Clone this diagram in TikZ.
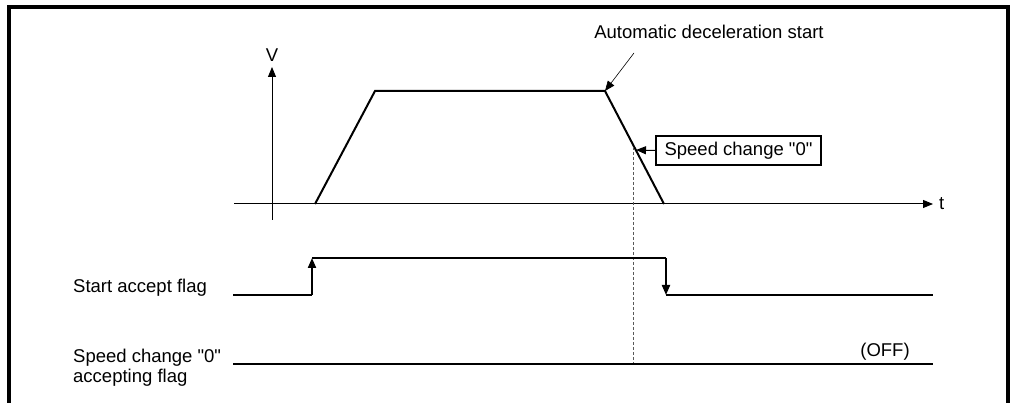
\documentclass[tikz,border=0pt]{standalone}
\usepackage{fontspec}
\newfontfamily\arialfam{Liberation Sans}
\usetikzlibrary{arrows.meta}
\begin{document}
\begin{tikzpicture}[x=1pt,y=-1pt,
  lbl/.style={font=\arialfam\fontsize{18.5}{20}\selectfont, inner sep=0pt},
  thinln/.style={line width=1pt},
  hairln/.style={line width=0.6pt},
  sig/.style={line width=2pt},
  tip/.style={-{Triangle[length=10pt,width=8pt]}},
  frameln/.style={line width=4pt, line join=miter}]
\useasboundingbox (0,0) rectangle (1010,403);
% frame
\coordinate (f1) at (9,403);
\coordinate (f2) at (9,7);
\coordinate (f3) at (1007.5,7);
\coordinate (f4) at (1007.5,403);
\draw[frameln] (f1) -- (f2) -- (f3) -- (f4);
% axes
\coordinate (vb) at (272,220);
\coordinate (vt) at (272,67);
\draw[thinln,tip] (vb) -- (vt);
\node[lbl,anchor=base] (V) at (272,62) {V};
\coordinate (tl) at (234,204);
\coordinate (tr) at (933,204);
\draw[thinln,tip] (tl) -- (tr);
\node[lbl,anchor=base west] (T) at (939,210) {t};
% trapezoid
\coordinate (p0) at (315,204);
\coordinate (p1) at (375,91);
\coordinate (p2) at (605,91);
\coordinate (p3) at (664,204);
\draw[sig, line join=miter] (p0) -- (p1) -- (p2) -- (p3);
% automatic deceleration label
\node[lbl,anchor=base] (auto) at (709,39) {Automatic deceleration start};
\coordinate (autoarr) at (634,53);
\draw[hairln,tip] (autoarr) -- (p2);
% speed change box
\node[lbl, draw, line width=1.5pt, minimum width=165pt, minimum height=29pt] (sc) at (738.5,150.5) {Speed change "0"};
\coordinate (scp) at (636,150);
\draw[thinln,tip] (sc.west) -- (scp);
% dashed line
\coordinate (d0) at (633,147);
\coordinate (d1) at (633,364);
\draw[hairln, gray!70!black, dash pattern=on 3pt off 2pt] (d0) -- (d1);
% start accept flag
\node[lbl,anchor=base west] (saf) at (73,293) {Start accept flag};
\coordinate (s0) at (233,295);
\coordinate (s1) at (312,295);
\coordinate (s2) at (312,258);
\coordinate (s3) at (666,258);
\coordinate (s4) at (666,295);
\coordinate (s5) at (933,295);
\draw[sig] (s0) -- (s1);
\draw[sig,tip] (s1) -- (s2);
\draw[sig] (s2) -- (s3);
\draw[sig,tip] (s3) -- (s4);
\draw[sig] (s4) -- (s5);
% speed change 0 accepting flag
\node[lbl,anchor=west,align=left] (scf) at (73,368) {Speed change "0"\\accepting flag};
\coordinate (c0) at (233,364);
\coordinate (c1) at (933,364);
\draw[sig] (c0) -- (c1);
\node[lbl,anchor=base] (off) at (885,357) {(OFF)};
\end{tikzpicture}
\end{document}
